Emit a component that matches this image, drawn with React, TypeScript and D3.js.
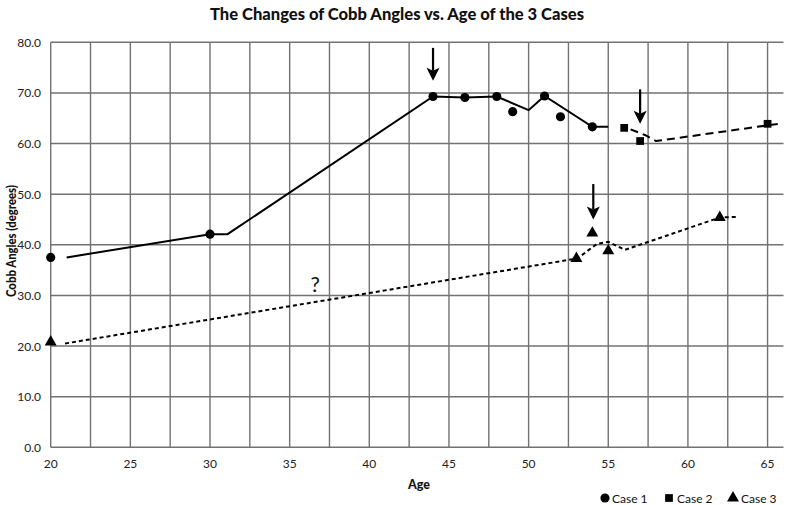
import React from "react";
import * as d3 from "d3";

const title = "The Changes of Cobb Angles vs. Age of the 3 Cases";
const xLabel = "Age";
const yLabel = "Cobb Angles (degrees)";

const xTicks = [20, 25, 30, 35, 40, 45, 50, 55, 60, 65];
const xGrid = [22.5, 25, 27.5, 30, 32.5, 35, 37.5, 40, 42.5, 45, 47.5, 50, 52.5, 55, 57.5, 60, 62.5, 65];
const yTicks = [0, 10, 20, 30, 40, 50, 60, 70, 80];

// Case 1 markers and line
const case1X = [20, 30, 44, 46, 48, 49, 51, 52, 54];
const case1Y = [37.5, 42.1, 69.3, 69.1, 69.3, 66.3, 69.4, 65.3, 63.3];
const case1LineX = [21, 30, 31.1, 44, 46, 48, 50, 51, 54, 55];
const case1LineY = [37.5, 42.1, 42.1, 69.3, 69.1, 69.3, 66.6, 69.4, 63.3, 63.3];

// Case 2
const case2X = [56, 57, 65];
const case2Y = [63.1, 60.5, 63.9];
const case2LineX = [56.4, 57.3, 58.0, 65.7];
const case2LineY = [62.8, 61.7, 60.5, 63.9];

// Case 3
const case3X = [20, 53, 54, 55, 62];
const case3Y = [20.8, 37.3, 42.3, 38.8, 45.4];
const case3LineX = [20.9, 53.06, 54.3, 55.0, 56.05, 62, 63.1];
const case3LineY = [20.5, 37.3, 40.2, 40.6, 39.0, 45.4, 45.5];

// Arrows (x, y start, y end)
const arrowX = [44, 57, 54.06];
const arrowYStart = [78.9, 70.7, 52.0];
const arrowYEnd = [72.4, 63.9, 45.0];

const questionX = 36.6;
const questionY = 32.4;

const legendLabels = ["Case 1", "Case 2", "Case 3"];

const W = 787;
const H = 505;
const FONT = "Lato, 'Open Sans', sans-serif";

export default function App() {
  const x = d3.scaleLinear().domain([20, 66]).range([50.7, 783.5]);
  const y = d3.scaleLinear().domain([0, 80]).range([447.3, 42.3]);

  const line = d3
    .line<[number, number]>()
    .x((d) => x(d[0]))
    .y((d) => y(d[1]));

  const zip = (a: number[], b: number[]) => a.map((v, i) => [v, b[i]] as [number, number]);

  const circle = d3.symbol().type(d3.symbolCircle).size(66)()!;
  const square = d3.symbol().type(d3.symbolSquare).size(60)()!;
  const triangle = d3.symbol().type(d3.symbolTriangle).size(62)()!;

  const gridColor = "#727272";

  const legendItems = [
    { sym: circle, sx: 605, tx: 612 },
    { sym: square, sx: 669, tx: 677 },
    { sym: triangle, sx: 733, tx: 741 },
  ];

  return (
    <svg
      width={W}
      height={H}
      style={{ position: "absolute", left: 0, top: 0, background: "#fff" }}
      fontFamily={FONT}
    >
      <rect width={W} height={H} fill="#fff" />
      <text
        x={397}
        y={20}
        textAnchor="middle"
        fontSize={17}
        fontWeight="900"
        fill="#111"
        textLength={374}
        lengthAdjust="spacingAndGlyphs"
      >
        {title}
      </text>

      {/* horizontal gridlines */}
      {yTicks.map((t) => (
        <line
          key={"hy" + t}
          x1={x(20)}
          x2={x(66)}
          y1={y(t)}
          y2={y(t)}
          stroke={gridColor}
          strokeWidth={1.4}
        />
      ))}
      {/* vertical gridlines */}
      {[20, ...xGrid].map((t) => (
        <line
          key={"vx" + t}
          x1={x(t)}
          x2={x(t)}
          y1={y(0)}
          y2={y(80)}
          stroke={gridColor}
          strokeWidth={1.4}
        />
      ))}

      {/* y tick labels */}
      {yTicks.map((t) => (
        <text
          key={"yl" + t}
          x={41}
          y={y(t)}
          textAnchor="end"
          dominantBaseline="central"
          fontSize={12}
          fill="#222"
        >
          {t.toFixed(1)}
        </text>
      ))}
      {/* x tick labels */}
      {xTicks.map((t) => (
        <text
          key={"xl" + t}
          x={x(t)}
          y={463}
          textAnchor="middle"
          dominantBaseline="central"
          fontSize={12}
          fill="#222"
        >
          {t}
        </text>
      ))}

      <text x={419} y={484} textAnchor="middle" dominantBaseline="central" fontSize={12.5} fontWeight="900" fill="#111">
        {xLabel}
      </text>
      <text
        transform={`translate(11, 241) rotate(-90)`}
        textAnchor="middle"
        dominantBaseline="central"
        fontSize={12.5}
        fontWeight="900"
        fill="#111"
        textLength={112}
        lengthAdjust="spacingAndGlyphs"
      >
        {yLabel}
      </text>

      {/* lines */}
      <path d={line(zip(case1LineX, case1LineY))!} fill="none" stroke="#000" strokeWidth={2} />
      <path
        d={line(zip(case2LineX, case2LineY))!}
        fill="none"
        stroke="#000"
        strokeWidth={2}
        strokeDasharray="8,5"
      />
      <path
        d={line(zip(case3LineX, case3LineY))!}
        fill="none"
        stroke="#000"
        strokeWidth={2}
        strokeDasharray="4,3"
      />

      {/* markers */}
      {case1X.map((v, i) => (
        <path key={"c1" + i} d={circle} transform={`translate(${x(v)},${y(case1Y[i])})`} fill="#000" />
      ))}
      {case2X.map((v, i) => (
        <path key={"c2" + i} d={square} transform={`translate(${x(v)},${y(case2Y[i])})`} fill="#000" />
      ))}
      {case3X.map((v, i) => (
        <path key={"c3" + i} d={triangle} transform={`translate(${x(v)},${y(case3Y[i])})`} fill="#000" />
      ))}

      {/* arrows */}
      {arrowX.map((v, i) => {
        const xs = x(v);
        const y0 = y(arrowYStart[i]);
        const y1 = y(arrowYEnd[i]);
        const headH = 13;
        const headW = 6.5;
        return (
          <g key={"ar" + i}>
            <line x1={xs} x2={xs} y1={y0} y2={y1 - headH + 3} stroke="#000" strokeWidth={2.2} />
            <path
              d={`M${xs - headW},${y1 - headH} L${xs},${y1 - headH + 3} L${xs + headW},${y1 - headH} L${xs},${y1} Z`}
              fill="#000"
            />
          </g>
        );
      })}

      <text
        x={x(questionX)}
        y={y(questionY)}
        textAnchor="middle"
        dominantBaseline="central"
        fontSize={21}
        fill="#111"
      >
        ?
      </text>

      {/* legend */}
      {legendItems.map((it, i) => (
        <g key={"lg" + i}>
          <path d={it.sym} transform={`translate(${it.sx},498)`} fill="#000" />
          <text x={it.tx} y={498} dominantBaseline="central" fontSize={12} fill="#111">
            {legendLabels[i]}
          </text>
        </g>
      ))}
    </svg>
  );
}
